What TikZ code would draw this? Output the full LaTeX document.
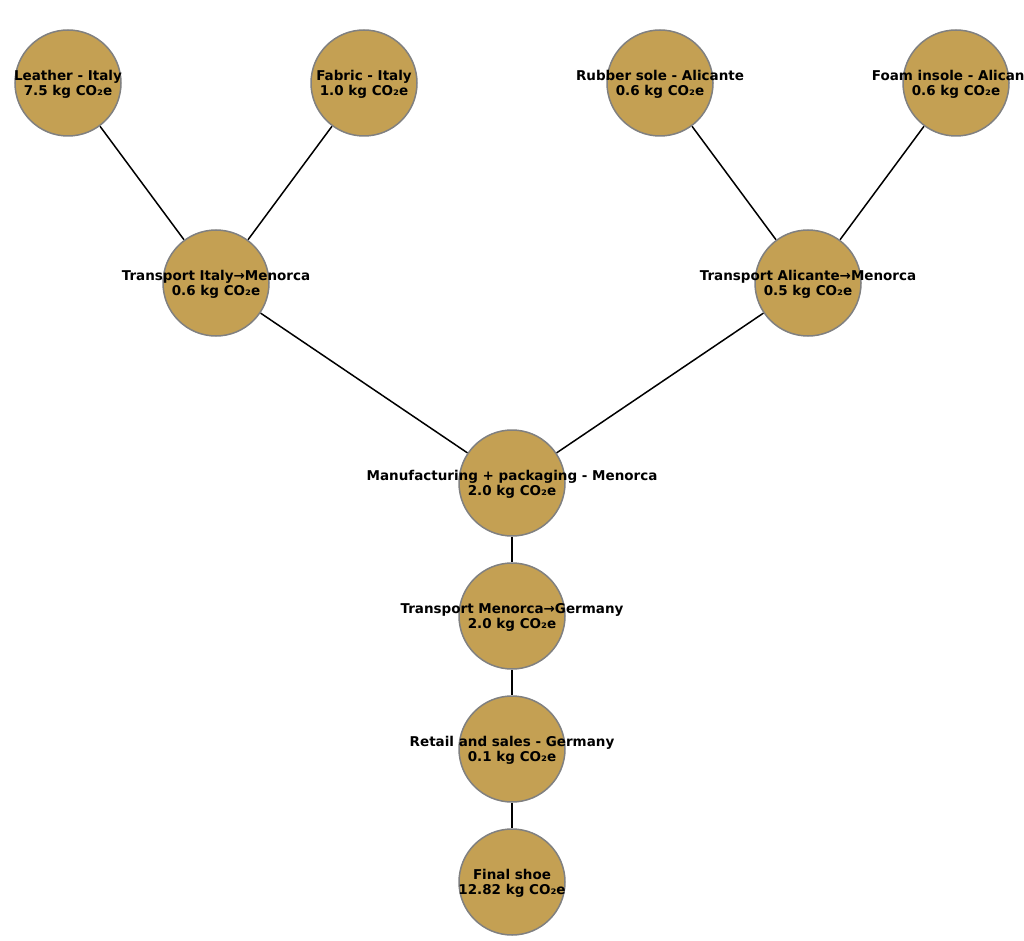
\documentclass[tikz,border=0pt]{standalone}
\usepackage{fontspec}
\setmainfont{DejaVu Sans}
\usetikzlibrary{backgrounds}
\definecolor{nodefill}{RGB}{196,160,83}
\definecolor{nodeline}{RGB}{128,128,128}
\tikzset{
  stage/.style={circle, fill=nodefill, draw=nodeline, line width=1.5pt, minimum size=106pt, inner sep=0pt},
  stagetext/.style={align=center, font=\fontsize{13.5}{15}\selectfont\bfseries, text=black, inner sep=0pt, yshift=-1pt},
  link/.style={draw=black, line width=1.5pt}
}
\begin{document}
\begin{tikzpicture}[x=1pt,y=-1pt]
\useasboundingbox (0,0) rectangle (1024,941);
\clip (0,0) rectangle (1024,941);
\node[stage] (leather) at (68,83) {};
\node[stage] (fabric) at (364,83) {};
\node[stage] (rubber) at (660,83) {};
\node[stage] (foam) at (956,83) {};
\node[stage] (tital) at (216,283) {};
\node[stage] (talic) at (808,283) {};
\node[stage] (manuf) at (512,483) {};
\node[stage] (tger) at (512,616) {};
\node[stage] (retail) at (512,749) {};
\node[stage] (final) at (512,882) {};
\begin{scope}[on background layer]
\draw[link] (leather) -- (tital);
\draw[link] (fabric) -- (tital);
\draw[link] (rubber) -- (talic);
\draw[link] (foam) -- (talic);
\draw[link] (tital) -- (manuf);
\draw[link] (talic) -- (manuf);
\draw[link] (manuf) -- (tger);
\draw[link] (tger) -- (retail);
\draw[link] (retail) -- (final);
\end{scope}
\node[stagetext] (leatherT) at (leather.center) {Leather - Italy\\7.5 kg CO₂e};
\node[stagetext] (fabricT) at (fabric.center) {Fabric - Italy\\1.0 kg CO₂e};
\node[stagetext] (rubberT) at (rubber.center) {Rubber sole - Alicante\\0.6 kg CO₂e};
\node[stagetext] (foamT) at (foam.center) {Foam insole - Alicante\\0.6 kg CO₂e};
\node[stagetext] (titalT) at (tital.center) {Transport Italy→Menorca\\0.6 kg CO₂e};
\node[stagetext] (talicT) at (talic.center) {Transport Alicante→Menorca\\0.5 kg CO₂e};
\node[stagetext] (manufT) at (manuf.center) {Manufacturing + packaging - Menorca\\2.0 kg CO₂e};
\node[stagetext] (tgerT) at (tger.center) {Transport Menorca→Germany\\2.0 kg CO₂e};
\node[stagetext] (retailT) at (retail.center) {Retail and sales - Germany\\0.1 kg CO₂e};
\node[stagetext] (finalT) at (final.center) {Final shoe\\12.82 kg CO₂e};
\end{tikzpicture}
\end{document}
